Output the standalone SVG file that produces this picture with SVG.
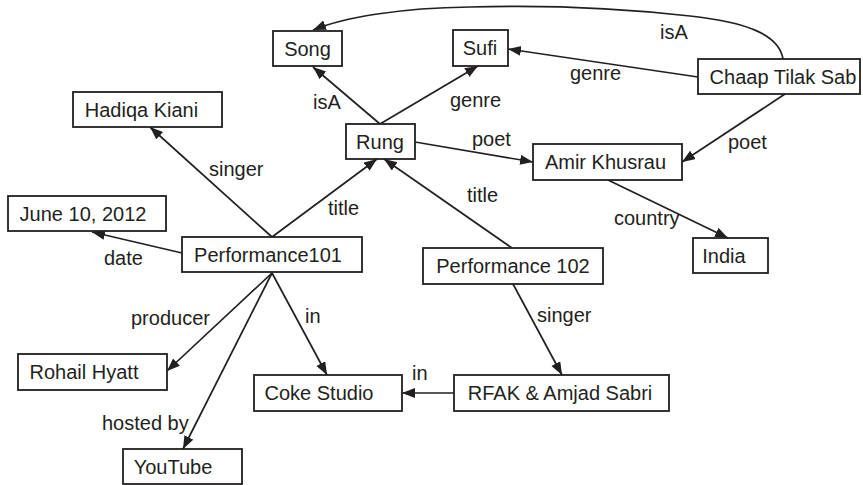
<svg xmlns="http://www.w3.org/2000/svg" width="863" height="485" viewBox="0 0 863 485">
<defs>
<marker id="arr" markerUnits="userSpaceOnUse" markerWidth="14" markerHeight="11" refX="13" refY="5" orient="auto">
<path d="M0,0 L13,5 L0,10 z" fill="#231f20"/>
</marker>
<style>
.box{fill:#fff;stroke:#231f20;stroke-width:1.8}
.nt{font-family:"Liberation Sans",Arial,sans-serif;font-size:20px;fill:#231f20;text-anchor:middle}
.lb{font-family:"Liberation Sans",Arial,sans-serif;font-size:20px;fill:#231f20}
.e{fill:none;stroke:#231f20;stroke-width:1.7;marker-end:url(#arr)}
</style>
</defs>
<rect width="863" height="485" fill="#fff"/>
<g id="connectors">
<path class="e" d="M380,124 L313,67"/>
<path class="e" d="M380,124 L478,66"/>
<path class="e" d="M415,142 L533,162"/>
<path class="e" d="M698,77 L508,49"/>
<path class="e" d="M785,94 L682,162"/>
<path class="e" d="M783,59 C779,34 745,22 690,16 C620,8 540,5 470,7 C400,8 345,17 313,30"/>
<path class="e" d="M272,237 L150,127"/>
<path class="e" d="M272,237 L377,159"/>
<path class="e" d="M182,253 L92,232"/>
<path class="e" d="M512,248 L384,159"/>
<path class="e" d="M272,273 L167,371"/>
<path class="e" d="M272,273 L183,449"/>
<path class="e" d="M272,273 L327,375"/>
<path class="e" d="M513,284 L562,375"/>
<path class="e" d="M454,393 L402,393"/>
<path class="e" d="M608,180 L728,238"/>
<text class="lb" x="313" y="109">isA</text>
<text class="lb" x="450" y="107">genre</text>
<text class="lb" x="472" y="146">poet</text>
<text class="lb" x="570" y="80">genre</text>
<text class="lb" x="660" y="39">isA</text>
<text class="lb" x="728" y="149">poet</text>
<text class="lb" x="467" y="202">title</text>
<text class="lb" x="614" y="225">country</text>
<text class="lb" x="209" y="176">singer</text>
<text class="lb" x="328" y="215">title</text>
<text class="lb" x="104" y="265">date</text>
<text class="lb" x="131" y="325">producer</text>
<text class="lb" x="305" y="323">in</text>
<text class="lb" x="102" y="430">hosted by</text>
<text class="lb" x="412" y="380">in</text>
<text class="lb" x="537" y="322">singer</text>
</g>
<g id="song"><rect class="box" x="273" y="31" width="69" height="35"/><text class="nt" x="307.5" y="56">Song</text></g>
<g id="sufi"><rect class="box" x="453" y="30" width="55" height="36"/><text class="nt" x="480" y="55">Sufi</text></g>
<g id="chaap"><rect class="box" x="698" y="59" width="162" height="35"/><text class="nt" x="783" y="84">Chaap Tilak Sab</text></g>
<g id="hadiqa"><rect class="box" x="73" y="92" width="149" height="35"/><text class="nt" x="141.5" y="117">Hadiqa Kiani</text></g>
<g id="rung"><rect class="box" x="346" y="124" width="69" height="35"/><text class="nt" x="380" y="149">Rung</text></g>
<g id="amir"><rect class="box" x="533" y="144" width="149" height="36"/><text class="nt" x="605.5" y="169">Amir Khusrau</text></g>
<g id="june"><rect class="box" x="8" y="196" width="158" height="35"/><text class="nt" x="83" y="221">June 10, 2012</text></g>
<g id="perf101"><rect class="box" x="182" y="237" width="180" height="35"/><text class="nt" x="268" y="262">Performance101</text></g>
<g id="india"><rect class="box" x="693" y="238" width="75" height="35"/><text class="nt" x="724" y="263">India</text></g>
<g id="perf102"><rect class="box" x="423" y="248" width="180" height="36"/><text class="nt" x="513" y="273">Performance 102</text></g>
<g id="rohail"><rect class="box" x="18" y="354" width="149" height="36"/><text class="nt" x="84" y="379">Rohail Hyatt</text></g>
<g id="coke"><rect class="box" x="254" y="375" width="148" height="36"/><text class="nt" x="319" y="400">Coke Studio</text></g>
<g id="rfak"><rect class="box" x="454" y="375" width="215" height="36"/><text class="nt" x="560" y="400">RFAK &amp; Amjad Sabri</text></g>
<g id="youtube"><rect class="box" x="123" y="449" width="119" height="35"/><text class="nt" x="173" y="474">YouTube</text></g>
</svg>
